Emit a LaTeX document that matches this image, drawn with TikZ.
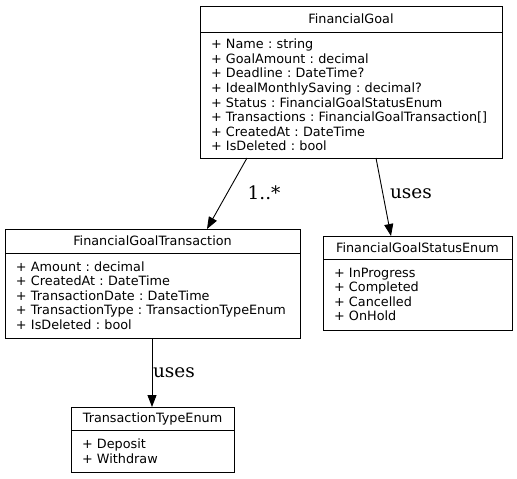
\documentclass[tikz,border=0pt]{standalone}
\usepackage{fontspec}
\usepackage{tikz}
\usetikzlibrary{arrows.meta, positioning}
\newfontfamily\umlfont{DejaVu Sans}
\newfontfamily\edgefont{DejaVu Serif}
\frenchspacing
\tikzset{
  classhead/.style={rectangle, draw=black, line width=0.9pt, font=\umlfont\fontsize{12.8}{14.6}\selectfont, inner sep=0pt, outer sep=0pt, anchor=north west},
  classbody/.style={rectangle, draw=black, line width=0.9pt, font=\umlfont\fontsize{12.8}{14.6}\selectfont, align=left, inner xsep=11pt, inner ysep=0pt, outer sep=0pt},
  arr/.style={-{Triangle[length=12pt, width=9pt]}, line width=0.9pt, black},
  lbl/.style={font=\edgefont\fontsize{18.5}{20}\selectfont, inner sep=0pt, anchor=base},
}
\begin{document}
\begin{tikzpicture}[x=1pt, y=-1pt]
\useasboundingbox (0,0) rectangle (517,479);
% classes
\node[classhead, minimum width=302pt, minimum height=26pt] (goalhead) at (200,6) {FinancialGoal};
\node[classbody, below=0pt of goalhead, text width=280pt, minimum height=126pt] (goalbody) {+ Name : string\\ + GoalAmount : decimal\\ + Deadline : DateTime?\\ + IdealMonthlySaving : decimal?\\ + Status : FinancialGoalStatusEnum\\ + Transactions : FinancialGoalTransaction[]\\ + CreatedAt : DateTime\\ + IsDeleted : bool};
\node[classhead, minimum width=295pt, minimum height=24pt] (transhead) at (5,229) {FinancialGoalTransaction};
\node[classbody, below=0pt of transhead, text width=273pt, minimum height=85pt] (transbody) {+ Amount : decimal\\ + CreatedAt : DateTime\\ + TransactionDate : DateTime\\ + TransactionType : TransactionTypeEnum\\ + IsDeleted : bool};
\node[classhead, minimum width=189pt, minimum height=23pt] (statushead) at (323,236) {FinancialGoalStatusEnum};
\node[classbody, below=0pt of statushead, text width=167pt, minimum height=71pt] (statusbody) {+ InProgress\\ + Completed\\ + Cancelled\\ + OnHold};
\node[classhead, minimum width=163pt, minimum height=23pt] (typehead) at (71,407) {TransactionTypeEnum};
\node[classbody, below=0pt of typehead, text width=141pt, minimum height=42pt] (typebody) {+ Deposit\\ + Withdraw};
% associations
\draw[arr] ([xshift=47pt]goalbody.south west) -- ([xshift=202pt]transhead.north west);
\draw[arr] ([xshift=176pt]goalbody.south west) -- ([xshift=68pt]statushead.north west);
\draw[arr] ([xshift=147pt]transbody.south west) -- ([xshift=81pt]typehead.north west);
\node[lbl] (multlbl) at (264,199) {1..*};
\node[lbl] (useslbl) at (411,198) {uses};
\node[lbl] (typelbl) at (174,377) {uses};
\end{tikzpicture}
\end{document}
